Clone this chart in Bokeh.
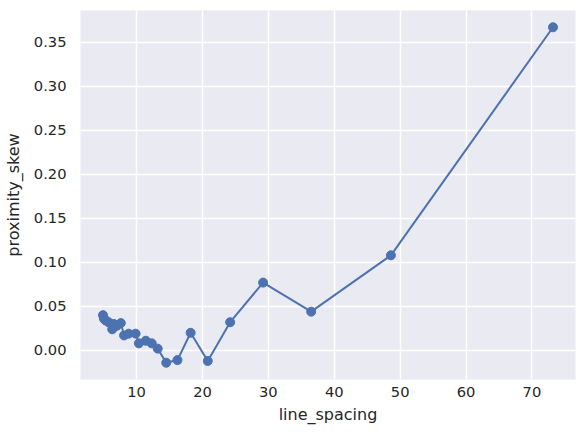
from bokeh.plotting import figure
from bokeh.models import FixedTicker, PrintfTickFormatter, Range1d, ColumnDataSource
from bokeh.embed import file_html
from bokeh.resources import INLINE

line_spacing = [4.9, 5.05, 5.3, 5.75, 6.3, 6.55, 7.0, 7.6, 8.1, 8.8, 9.85, 10.35, 11.4,
                12.3, 13.2, 14.5, 16.2, 18.2, 20.8, 24.2, 29.2, 36.5, 48.6, 73.2]
proximity_skew = [0.040, 0.036, 0.034, 0.032, 0.024, 0.030, 0.028, 0.031, 0.017, 0.019,
                  0.019, 0.008, 0.011, 0.008, 0.002, -0.014, -0.011, 0.020, -0.012, 0.032,
                  0.077, 0.044, 0.108, 0.367]
x_ticks = [10, 20, 30, 40, 50, 60, 70]
y_ticks = [0.0, 0.05, 0.10, 0.15, 0.20, 0.25, 0.30, 0.35]

color = "#4C72B0"
text_color = "#262626"
font = "DejaVu Sans"

src = ColumnDataSource(dict(x=line_spacing, y=proximity_skew))

xr = max(line_spacing) - min(line_spacing)
yr = max(proximity_skew) - min(proximity_skew)

p = figure(width=577, height=431, output_backend="svg", toolbar_location=None,
           x_range=Range1d(min(line_spacing) - 0.05 * xr, max(line_spacing) + 0.05 * xr),
           y_range=Range1d(min(proximity_skew) - 0.05 * yr, max(proximity_skew) + 0.05 * yr),
           min_border_left=80, min_border_right=2, min_border_top=10, min_border_bottom=52)

p.background_fill_color = "#EAEAF2"
p.border_fill_color = "white"
p.outline_line_color = None

p.line("x", "y", source=src, line_color=color, line_width=2)
p.scatter("x", "y", source=src, size=9, fill_color=color, line_color=color)

for g in (p.xgrid, p.ygrid):
    g.grid_line_color = "white"
    g.grid_line_width = 1.5

p.xaxis.ticker = FixedTicker(ticks=x_ticks)
p.yaxis.ticker = FixedTicker(ticks=y_ticks)
p.yaxis.formatter = PrintfTickFormatter(format="%.2f")
p.xgrid.ticker = FixedTicker(ticks=x_ticks)
p.ygrid.ticker = FixedTicker(ticks=y_ticks)

p.xaxis.axis_label = "line_spacing"
p.yaxis.axis_label = "proximity_skew"

for ax in (p.xaxis, p.yaxis):
    ax.axis_line_color = None
    ax.major_tick_line_color = None
    ax.minor_tick_line_color = None
    ax.major_tick_out = 0
    ax.major_tick_in = 0
    ax.major_label_text_font = font
    ax.major_label_text_font_size = "14.7px"
    ax.major_label_text_color = text_color
    ax.axis_label_text_font = font
    ax.axis_label_text_font_size = "16px"
    ax.axis_label_text_font_style = "normal"
    ax.axis_label_text_color = text_color

p.xaxis.major_label_standoff = 7
p.xaxis.axis_label_standoff = 5
p.yaxis.major_label_standoff = 14
p.yaxis.axis_label_standoff = 8

open("out.html", "w").write(file_html(p, INLINE))
